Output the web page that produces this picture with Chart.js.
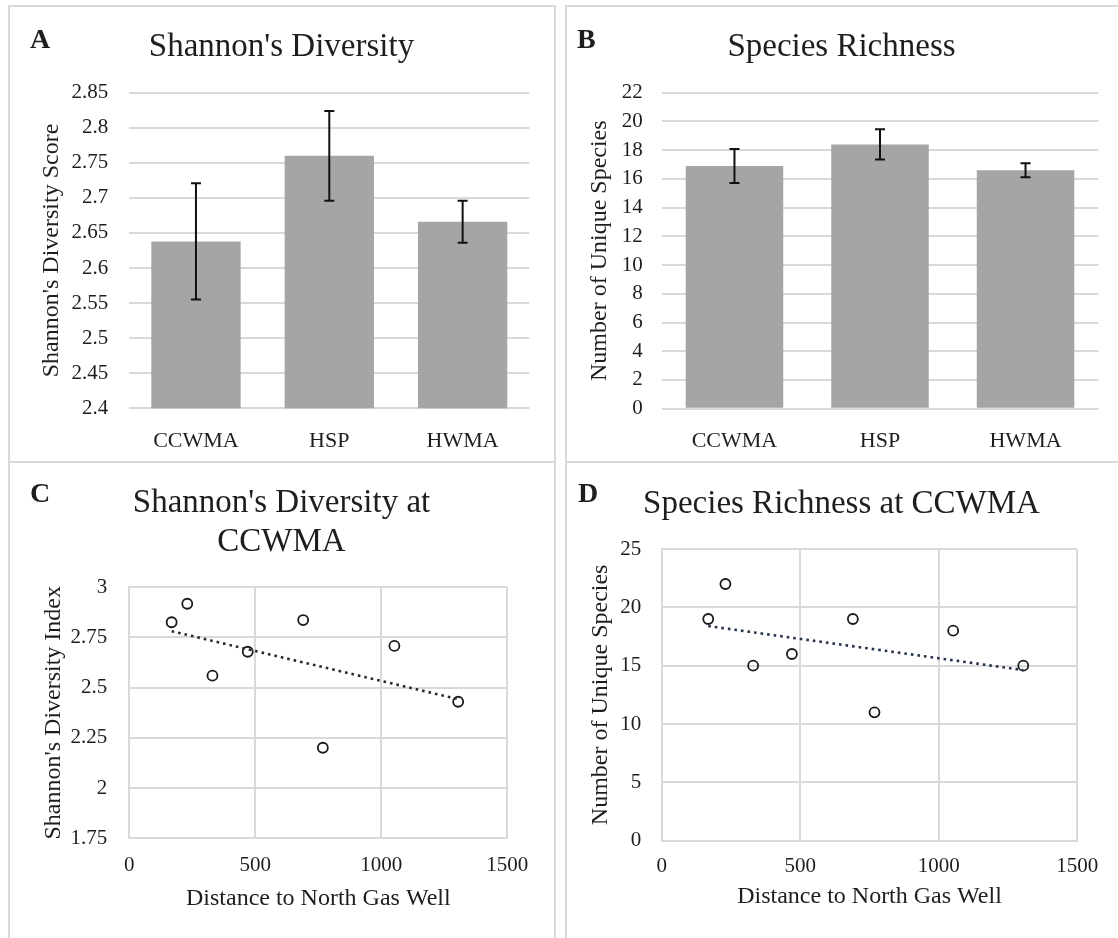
<!DOCTYPE html>
<html>
<head>
<meta charset="utf-8">
<title>Shannon's Diversity and Species Richness</title>
<script src="https://cdn.jsdelivr.net/npm/chart.js@4.4.1/dist/chart.umd.min.js"></script>
<style>
  html, body { margin: 0; padding: 0; background: #fff; }
  body { width: 1118px; height: 938px; position: relative; overflow: hidden;
         font-family: 'Liberation Serif', 'Times New Roman', serif; color: #1e1e1e; }
  .panel { position: absolute; box-sizing: border-box; border: 2px solid #d9d9d9; }
  .letter { position: absolute; font-weight: bold; font-size: 28px; line-height: 28px; }
  .title { position: absolute; text-align: center; font-size: 33px; line-height: 39px; white-space: nowrap; }
  canvas { position: absolute; }
</style>
</head>
<body>
<div class="panel" style="left:8px;top:5px;width:548px;height:458px"></div>
<div class="panel" style="left:565px;top:5px;width:600px;height:458px"></div>
<div class="panel" style="left:8px;top:461px;width:548px;height:600px"></div>
<div class="panel" style="left:565px;top:461px;width:600px;height:600px"></div>

<canvas id="chartA" width="540" height="452" style="left:10px;top:8px"></canvas>
<canvas id="chartB" width="548" height="452" style="left:568px;top:8px"></canvas>
<canvas id="chartC" width="540" height="471" style="left:10px;top:465px"></canvas>
<canvas id="chartD" width="548" height="471" style="left:568px;top:465px"></canvas>

<div class="letter" style="left:30px;top:25px">A</div>
<div class="letter" style="left:577px;top:25px">B</div>
<div class="letter" style="left:30px;top:479px">C</div>
<div class="letter" style="left:578px;top:479px">D</div>

<div class="title" style="left:8px;width:547px;top:26px">Shannon's Diversity</div>
<div class="title" style="left:565px;width:553px;top:26px">Species Richness</div>
<div class="title" style="left:8px;width:547px;top:482px">Shannon's Diversity at<br>CCWMA</div>
<div class="title" style="left:565px;width:553px;top:483px">Species Richness at CCWMA</div>

<script>
// site means with their error bars
const sites = ['CCWMA', 'HSP', 'HWMA'];
const shannonMean = [2.638, 2.760, 2.666];
const shannonErr = [0.083, 0.064, 0.030];
const richnessMean = [16.9, 18.4, 16.6];
const richnessErr = [1.18, 1.05, 0.48];
const shannonTicks = [2.4, 2.45, 2.5, 2.55, 2.6, 2.65, 2.7, 2.75, 2.8, 2.85];
const richnessTicks = [0, 2, 4, 6, 8, 10, 12, 14, 16, 18, 20, 22];

// CCWMA plots against distance to the north gas well
const wellDistance = [168, 230, 330, 470, 690, 768, 1052, 1305];
const ccwmaShannon = [2.826, 2.918, 2.560, 2.679, 2.837, 2.201, 2.708, 2.430];
const ccwmaRichness = [19, 22, 15, 16, 19, 11, 18, 15];
const distanceTicks = [0, 500, 1000, 1500];
const ccwmaShannonTicks = [1.75, 2, 2.25, 2.5, 2.75, 3];
const ccwmaRichnessTicks = [0, 5, 10, 15, 20, 25];

const GRID = '#d9d9d9';
const INK = '#1e1e1e';
Chart.defaults.font.family = "'Liberation Serif', 'Times New Roman', serif";
Chart.defaults.color = INK;

function fixedTicks(values) {
  return function (scale) { scale.ticks = values.map(v => ({ value: v })); };
}

// least squares line, end points at the smallest and largest x
function trend(xs, ys) {
  const n = xs.length;
  const mx = xs.reduce((a, b) => a + b, 0) / n;
  const my = ys.reduce((a, b) => a + b, 0) / n;
  let sxy = 0, sxx = 0;
  xs.forEach((x, i) => { sxy += (x - mx) * (ys[i] - my); sxx += (x - mx) * (x - mx); });
  const k = sxy / sxx;
  const x0 = Math.min(...xs), x1 = Math.max(...xs);
  return [{ x: x0, y: my + k * (x0 - mx) }, { x: x1, y: my + k * (x1 - mx) }];
}

const errorBars = {
  id: 'errorBars',
  afterDatasetsDraw(chart, args, opts) {
    if (!opts.values) return;
    const ctx = chart.ctx, y = chart.scales.y;
    const data = chart.data.datasets[0].data;
    ctx.save();
    ctx.strokeStyle = '#111';
    ctx.lineWidth = 2;
    chart.getDatasetMeta(0).data.forEach((bar, i) => {
      const hi = y.getPixelForValue(data[i] + opts.values[i]);
      const lo = y.getPixelForValue(data[i] - opts.values[i]);
      ctx.beginPath();
      ctx.moveTo(bar.x, hi); ctx.lineTo(bar.x, lo);
      ctx.moveTo(bar.x - 5, hi); ctx.lineTo(bar.x + 5, hi);
      ctx.moveTo(bar.x - 5, lo); ctx.lineTo(bar.x + 5, lo);
      ctx.stroke();
    });
    ctx.restore();
  }
};
Chart.register(errorBars);

// box: canvas position on the page, area: where the plot area should land
function barChart(id, box, area, values, errors, ticks, yTitle) {
  const xH = 40;
  return new Chart(document.getElementById(id), {
    type: 'bar',
    data: {
      labels: sites,
      datasets: [{ data: values, backgroundColor: '#a5a5a5', barPercentage: 0.67, categoryPercentage: 1 }]
    },
    options: {
      responsive: false,
      animation: false,
      layout: { padding: {
        left: 0,
        top: area.top - box.top,
        right: box.left + box.width - area.right,
        bottom: box.top + box.height - area.bottom - xH
      } },
      plugins: { legend: { display: false }, tooltip: { enabled: false }, errorBars: { values: errors } },
      scales: {
        x: {
          grid: { display: false },
          border: { display: false },
          ticks: { padding: area.tickY - area.bottom - 13.2, font: { size: 22 } },
          afterFit: s => { s.height = xH; }
        },
        y: {
          min: ticks[0],
          max: ticks[ticks.length - 1],
          afterBuildTicks: fixedTicks(ticks),
          grid: { color: GRID, lineWidth: 2, drawTicks: false },
          border: { display: false },
          ticks: { padding: area.tickPad, font: { size: 21 }, autoSkip: false, callback: v => String(v) },
          title: { display: true, text: yTitle, font: { size: 24 },
                   padding: { top: area.titleX - box.left - 14.4, bottom: 0 } },
          afterFit: s => { s.width = area.left - box.left; }
        }
      }
    }
  });
}

function scatterChart(id, box, area, ys, yTicks, yTitle, trendColor) {
  const xH = area.xTitleY - area.bottom + 14.4;
  return new Chart(document.getElementById(id), {
    type: 'scatter',
    data: {
      datasets: [
        { data: trend(wellDistance, ys), showLine: true, borderColor: trendColor, borderWidth: 2.6,
          borderDash: [2.6, 4], pointRadius: 0 },
        { data: wellDistance.map((x, i) => ({ x: x, y: ys[i] })), pointRadius: 5, pointBorderWidth: 1.8,
          pointBorderColor: '#1a1a1a', pointBackgroundColor: 'rgba(0,0,0,0)' }
      ]
    },
    options: {
      responsive: false,
      animation: false,
      layout: { padding: {
        left: 0,
        top: area.top - box.top,
        right: box.left + box.width - area.right,
        bottom: box.top + box.height - area.bottom - xH
      } },
      plugins: { legend: { display: false }, tooltip: { enabled: false } },
      scales: {
        x: {
          type: 'linear',
          min: 0,
          max: 1500,
          afterBuildTicks: fixedTicks(distanceTicks),
          grid: { color: GRID, lineWidth: 2, drawTicks: false },
          border: { color: GRID, width: 2 },
          ticks: { padding: area.tickY - area.bottom - 12.6, font: { size: 21 }, callback: v => String(v) },
          title: { display: true, text: 'Distance to North Gas Well', font: { size: 24 }, padding: 0 },
          afterFit: s => { s.height = xH; }
        },
        y: {
          min: yTicks[0],
          max: yTicks[yTicks.length - 1],
          afterBuildTicks: fixedTicks(yTicks),
          grid: { color: GRID, lineWidth: 2, drawTicks: false },
          border: { color: GRID, width: 2 },
          ticks: { padding: area.tickPad, font: { size: 21 }, autoSkip: false, callback: v => String(v) },
          title: { display: true, text: yTitle, font: { size: 24 },
                   padding: { top: area.titleX - box.left - 14.4, bottom: 0 } },
          afterFit: s => { s.width = area.left - box.left; }
        }
      }
    }
  });
}

barChart('chartA', { left: 10, top: 8, width: 540, height: 452 },
  { left: 129.3, top: 92.7, right: 529.3, bottom: 408.3, tickY: 433.3, tickPad: 21, titleX: 52 },
  shannonMean, shannonErr, shannonTicks, "Shannon's Diversity Score");

barChart('chartB', { left: 568, top: 8, width: 548, height: 452 },
  { left: 661.7, top: 92.7, right: 1098.3, bottom: 408.7, tickY: 433.5, tickPad: 19, titleX: 600 },
  richnessMean, richnessErr, richnessTicks, 'Number of Unique Species');

scatterChart('chartC', { left: 10, top: 465, width: 540, height: 471 },
  { left: 129.3, top: 587.3, right: 507.3, bottom: 838.3, tickY: 865, xTitleY: 898.3, tickPad: 22, titleX: 53.5 },
  ccwmaShannon, ccwmaShannonTicks, "Shannon's Diversity Index", '#2a2a2a');

scatterChart('chartD', { left: 568, top: 465, width: 548, height: 471 },
  { left: 661.7, top: 549, right: 1077.3, bottom: 840.7, tickY: 866.7, xTitleY: 896.7, tickPad: 20.5, titleX: 601 },
  ccwmaRichness, ccwmaRichnessTicks, 'Number of Unique Species', '#25344a');
</script>
</body>
</html>
